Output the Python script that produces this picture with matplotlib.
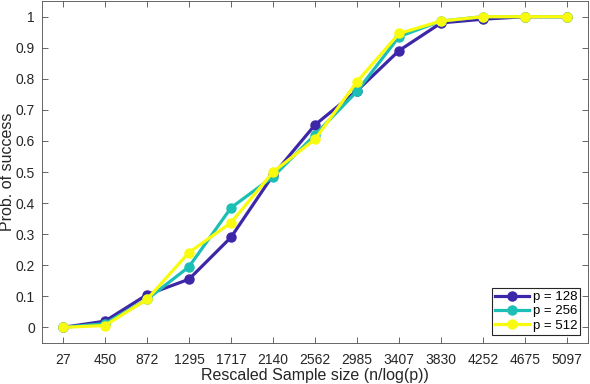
import numpy as np
import matplotlib.pyplot as plt

plt.rcParams['font.family'] = ['Liberation Sans', 'DejaVu Sans']

sizes = ['27', '450', '872', '1295', '1717', '2140', '2562', '2985', '3407', '3830', '4252', '4675', '5097']
p128 = [0, 0.02, 0.105, 0.155, 0.29, 0.49, 0.652, 0.762, 0.891, 0.98, 0.992, 1, 1]
p256 = [0, 0.012, 0.09, 0.195, 0.385, 0.485, 0.62, 0.76, 0.936, 0.986, 1, 1, 1]
p512 = [0, 0.006, 0.09, 0.241, 0.337, 0.5, 0.606, 0.791, 0.946, 0.986, 1, 1, 1]
labels = ['p = 128', 'p = 256', 'p = 512']
colors = ['#3e26a8', '#1cbfb5', '#f9fb0e']

x = np.arange(1, len(sizes) + 1)

fig = plt.figure(figsize=(5.9, 3.84), dpi=100)
ax = fig.add_axes([0.071, 0.107, 0.926, 0.890])

for y, lab, c in zip([p128, p256, p512], labels, colors):
    ax.plot(x, y, '-o', color=c, lw=2.3, ms=6.5, label=lab)

ax.set_xlim(0.5, 13.5)
ax.set_ylim(-0.05, 1.05)
ax.set_xticks(x)
ax.set_xticklabels(sizes)
yt = np.round(np.arange(0, 1.01, 0.1), 1)
ax.set_yticks(yt)
ax.set_yticklabels(['0' if v == 0 else ('1' if v == 1 else f'{v:g}') for v in yt])

axcol = '#4d4d4d'
ax.tick_params(direction='in', top=True, right=True, length=4, width=0.6,
               colors=axcol, labelcolor='#262626', labelsize=10)
ax.tick_params(axis='x', pad=7)
ax.tick_params(axis='y', pad=5)
for s in ax.spines.values():
    s.set_color(axcol)
    s.set_linewidth(0.6)

ax.set_xlabel('Rescaled Sample size (n/log(p))', fontsize=11.5, color='#262626')
ax.xaxis.set_label_coords(0.5, -0.072)
ax.set_ylabel('Prob. of success', fontsize=11.5, color='#262626')
ax.yaxis.set_label_coords(-0.05, 0.5)

leg = ax.legend(loc='lower right', fontsize=9.5, fancybox=False, framealpha=1,
                edgecolor='#262626', borderpad=0.25, labelspacing=0.15,
                handlelength=2.6, handletextpad=0.25, borderaxespad=0.6)
leg.get_frame().set_linewidth(0.8)

fig.savefig('out.png', dpi=100)
